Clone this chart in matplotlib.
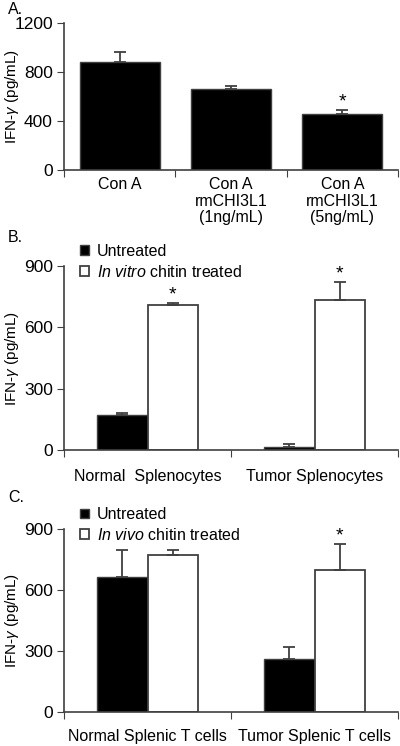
import matplotlib
matplotlib.use('Agg')
from matplotlib import pyplot as plt
import numpy as np

plt.rcParams['font.family'] = ['Liberation Sans', 'DejaVu Sans']
plt.rcParams['mathtext.fontset'] = 'custom'
plt.rcParams['mathtext.rm'] = 'Liberation Sans'
plt.rcParams['mathtext.it'] = 'Liberation Sans:italic'

# panel A
a_labels = ['Con A', 'Con A\nrmCHI3L1\n(1ng/mL)', 'Con A\nrmCHI3L1\n(5ng/mL)']
a_values = [885, 662, 455]
a_errors = [78, 22, 38]
a_stars = [False, False, True]

# panel B
b_labels = ['Normal  Splenocytes', 'Tumor Splenocytes']
b_untreated = [172, 15]
b_untreated_err = [12, 18]
b_treated = [710, 735]
b_treated_err = [8, 86]
b_stars = [True, True]

# panel C
c_labels = ['Normal Splenic T cells', 'Tumor Splenic T cells']
c_untreated = [665, 262]
c_untreated_err = [130, 60]
c_treated = [770, 697]
c_treated_err = [26, 128]
c_stars = [False, True]

EDGE = '#404040'
FS = 11.5
ERR = dict(ecolor=EDGE, capsize=4, elinewidth=1.3, capthick=1.3)


def style_axes(axes, ymax, step, ncat):
    axes.set_ylim(0, ymax)
    axes.set_xlim(0, ncat)
    axes.set_yticks(np.arange(0, ymax + 1, step))
    axes.set_xticks(np.arange(0, ncat + 1))
    axes.set_xticklabels([])
    axes.tick_params(axis='y', direction='out', length=5, color=EDGE, labelsize=12.5, pad=3)
    axes.tick_params(axis='x', direction='out', length=5, color=EDGE)
    for side in ['top', 'right']:
        axes.spines[side].set_visible(False)
    for side in ['left', 'bottom']:
        axes.spines[side].set_color(EDGE)
        axes.spines[side].set_linewidth(1.2)
    axes.set_ylabel(r'IFN-$\it{\gamma}$ (pg/mL)', fontsize=11, va='center')
    axes.yaxis.set_label_coords(-0.156, 0.5)


def grouped(axes, untreated, unt_err, treated, tr_err, stars, labels, legend_text, ymax, label_y):
    pos = np.arange(len(untreated)) + 0.5
    w = 0.3
    axes.bar(pos - w / 2, untreated, w, color='black', edgecolor=EDGE, linewidth=1,
             yerr=[np.zeros(len(unt_err)), unt_err], error_kw=ERR, label='Untreated')
    axes.bar(pos + w / 2, treated, w, color='white', edgecolor=EDGE, linewidth=1.3,
             yerr=[np.zeros(len(tr_err)), tr_err], error_kw=ERR, label=legend_text)
    for p, v, e, s in zip(pos, treated, tr_err, stars):
        if s:
            axes.text(p + w / 2, v + e, '*', ha='center', va='bottom', fontsize=14)
    for p, lab in zip(pos, labels):
        axes.text(p, label_y, lab, ha='center', va='center', fontsize=FS,
                  transform=axes.get_xaxis_transform())
    style_axes(axes, ymax, 300, len(untreated))
    axes.legend(loc='upper left', bbox_to_anchor=(0.03, 1.155), frameon=False, fontsize=11.5,
                handlelength=0.55, handleheight=0.55, handletextpad=0.5, labelspacing=0.3, borderaxespad=0)


figure = plt.figure(figsize=(4, 7.46), dpi=100)

ax_a = figure.add_axes([0.16, 0.772, 0.835, 0.197])
pos_a = np.arange(len(a_values)) + 0.5
ax_a.bar(pos_a, a_values, 0.72, color='black', edgecolor=EDGE, linewidth=1,
         yerr=[np.zeros(len(a_errors)), a_errors], error_kw=ERR)
for p, v, e, s in zip(pos_a, a_values, a_errors, a_stars):
    if s:
        ax_a.text(p, v + e - 10, '*', ha='center', va='bottom', fontsize=14)
for p, lab in zip(pos_a, a_labels):
    ax_a.text(p, -0.05, lab, ha='center', va='top', fontsize=FS, linespacing=1.1,
              transform=ax_a.get_xaxis_transform())
style_axes(ax_a, 1200, 400, len(a_values))

ax_b = figure.add_axes([0.16, 0.3964, 0.835, 0.247])
grouped(ax_b, b_untreated, b_untreated_err, b_treated, b_treated_err, b_stars, b_labels,
        r'$\it{In\ vitro}$ chitin treated', 900, -0.14)

ax_c = figure.add_axes([0.16, 0.0456, 0.835, 0.2453])
grouped(ax_c, c_untreated, c_untreated_err, c_treated, c_treated_err, c_stars, c_labels,
        r'$\it{In\ vivo}$ chitin treated', 900, -0.136)

figure.text(0.02, 0.987, 'A.', fontsize=FS, va='center')
figure.text(0.02, 0.682, 'B.', fontsize=FS, va='center')
figure.text(0.02, 0.333, 'C.', fontsize=FS, va='center')

plt.savefig('out.png', dpi=100)
